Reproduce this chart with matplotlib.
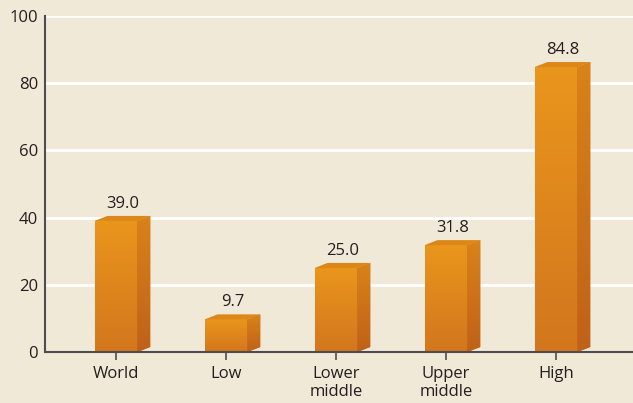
import matplotlib
matplotlib.use("Agg")
import matplotlib.pyplot as plt
import numpy as np
from matplotlib.patches import Polygon, Rectangle
from matplotlib.colors import LinearSegmentedColormap

categories = ["World", "Low", "Lower\nmiddle", "Upper\nmiddle", "High"]
values = [39.0, 9.7, 25.0, 31.8, 84.8]
labels = ["39.0", "9.7", "25.0", "31.8", "84.8"]
yticks = [0, 20, 40, 60, 80, 100]

bg = "#F1E9D8"
plt.rcParams['font.family'] = ['Open Sans', 'DejaVu Sans']

fig = plt.figure(figsize=(6.33, 4.03), dpi=100, facecolor=bg)
ax = fig.add_axes([45/633, 51/403, 588/633, 336/403], facecolor=bg)
ax.set_xlim(-0.645, 4.7)
ax.set_ylim(0, 100)

for y in yticks[1:]:
    ax.axhline(y, color="white", lw=2, zorder=0)

w = 0.39
dx = 0.118
dy = 1.5
grad = np.linspace(0, 1, 256).reshape(-1, 1)
cmap = LinearSegmentedColormap.from_list("o", ["#D3761E", "#E9961C"])
side_cmap = LinearSegmentedColormap.from_list("s", ["#BF6119", "#D98319"])
for i, v in enumerate(values):
    x0 = i - w/2
    x1 = i + w/2
    im = ax.imshow(grad, extent=[x0, x1, 0, v], origin="lower", cmap=cmap,
                   aspect="auto", zorder=3)
    clip = Rectangle((x0, 0), w, v, transform=ax.transData)
    im.set_clip_path(clip)
    side = Polygon([(x1, 0), (x1 + dx, dy), (x1 + dx, v + dy), (x1, v)],
                   closed=True, facecolor="#C96B1A", edgecolor="none", zorder=3)
    ax.add_patch(side)
    im2 = ax.imshow(grad, extent=[x1, x1 + dx, 0, v + dy], origin="lower",
                    cmap=side_cmap, aspect="auto", zorder=3)
    im2.set_clip_path(side)
    top = Polygon([(x0, v), (x0 + dx, v + dy), (x1 + dx, v + dy), (x1, v)],
                  closed=True, facecolor="#DC8718", edgecolor="none", zorder=3)
    ax.add_patch(top)
    ax.text(i + dx/2, v + dy + 1.3, labels[i], ha="center", va="bottom",
            fontsize=12, color="#231F20", zorder=4)

ax.set_xticks(range(len(categories)))
ax.set_xticklabels(categories, fontsize=12, color="#231F20", linespacing=1.15)
ax.set_yticks(yticks)
ax.set_yticklabels([str(t) for t in yticks], fontsize=12, color="#231F20")
ax.tick_params(axis="y", length=0, pad=5)
ax.tick_params(axis="x", length=6, width=1.2, color="#4D4D4D", pad=4)
for s in ["top", "right"]:
    ax.spines[s].set_visible(False)
for s in ["left", "bottom"]:
    ax.spines[s].set_color("#4D4D4D")
    ax.spines[s].set_linewidth(1.5)
    ax.spines[s].set_zorder(5)

fig.savefig("out.png", dpi=100, facecolor=bg)
